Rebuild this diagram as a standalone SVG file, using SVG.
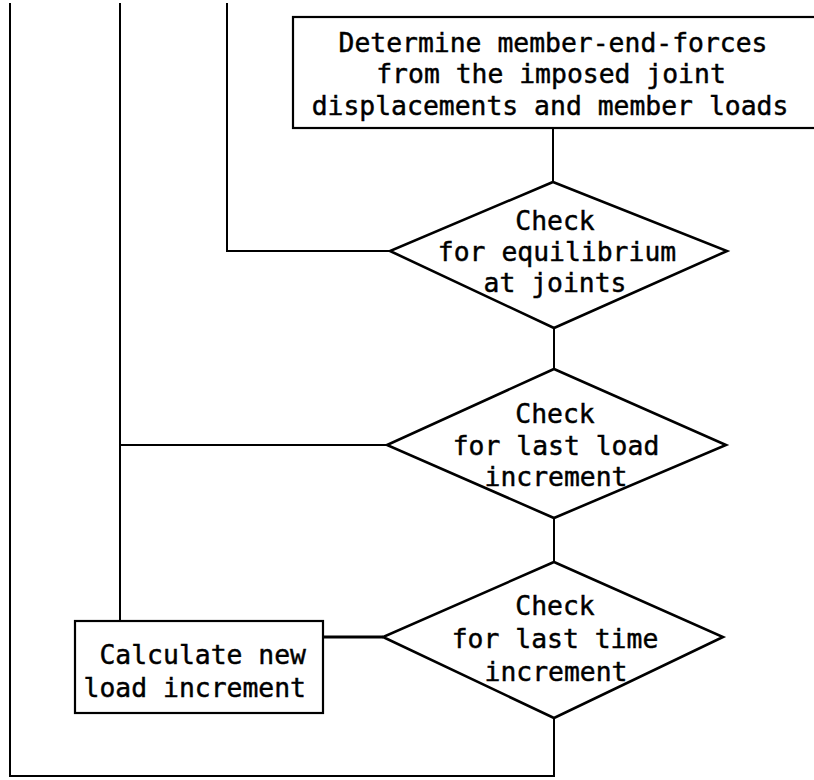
<svg xmlns="http://www.w3.org/2000/svg" width="814" height="780" viewBox="0 0 814 780">
<style>
.box{fill:#fff;stroke:#000;stroke-width:2.2}
.dia{fill:#fff;stroke:#000;stroke-width:2.6;stroke-linejoin:miter}
.ln{fill:none;stroke:#000;stroke-width:2}
text{font-family:"DejaVu Sans Mono","Liberation Mono",monospace;font-size:26.4px;fill:#000;stroke:#000;stroke-width:0.45}
.c{text-anchor:middle}
.r{text-anchor:end}
</style>
<rect width="814" height="780" fill="#fff"/>
<g id="connectors">
<polyline class="ln" points="553,128 553,182"/>
<polyline class="ln" points="554,328 554,369"/>
<polyline class="ln" points="554,518 554,562"/>
<polyline class="ln" points="390,251 227,251 227,3"/>
<polyline class="ln" points="387,445 120,445"/>
<polyline class="ln" points="120,3 120,621"/>
<polyline class="ln" points="323,637 383,637" style="stroke-width:3"/>
<polyline class="ln" points="554,718 554,776 10,776 10,3"/>
</g>
<g id="determine">
<rect class="box" x="293" y="17" width="530" height="111"/>
<text class="c" x="553" y="52">Determine member-end-forces</text>
<text class="c" x="551" y="83">from the imposed joint</text>
<text class="c" x="550" y="115">displacements and member loads</text>
</g>
<g id="check-equilibrium">
<polygon class="dia" points="553,182 727,251 554,328 390,251"/>
<text class="c" x="555" y="230">Check</text>
<text class="c" x="557" y="261">for equilibrium</text>
<text class="c" x="555" y="292">at joints</text>
</g>
<g id="check-load">
<polygon class="dia" points="554,369 726,445 554,518 387,445"/>
<text class="c" x="555" y="423">Check</text>
<text class="c" x="556" y="455">for last load</text>
<text class="c" x="556" y="486">increment</text>
</g>
<g id="check-time">
<polygon class="dia" points="554,562 723,637 554,718 383,637"/>
<text class="c" x="555" y="615">Check</text>
<text class="c" x="555" y="648">for last time</text>
<text class="c" x="556" y="681">increment</text>
</g>
<g id="calculate">
<rect class="box" x="75" y="621" width="248" height="92"/>
<text class="r" x="306" y="664">Calculate new</text>
<text class="r" x="306" y="697">load increment</text>
</g>
</svg>
